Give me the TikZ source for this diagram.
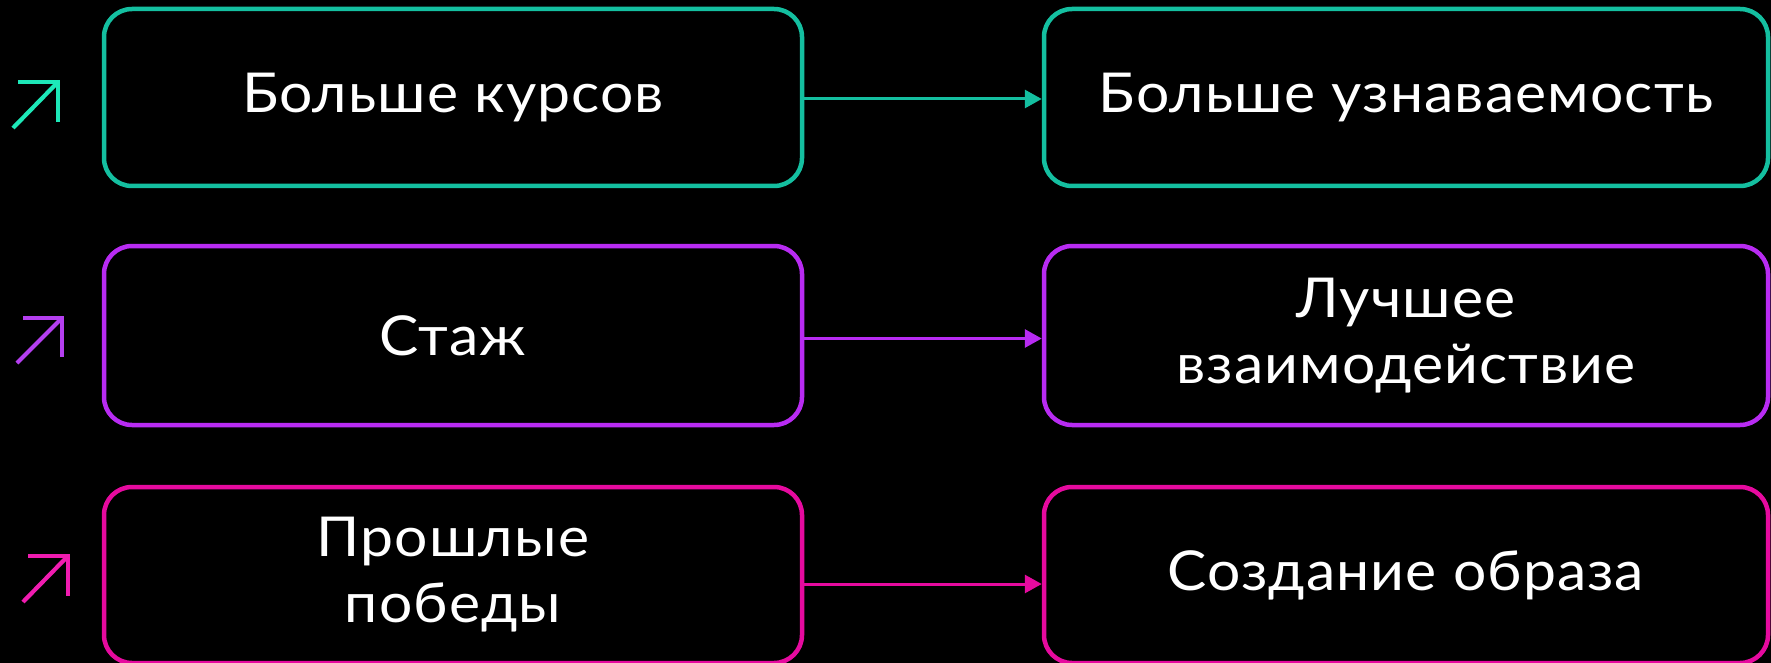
\documentclass[tikz,border=0pt]{standalone}
\usepackage{fontspec}
\setmainfont[FakeStretch=1.07,LetterSpace=2]{Lato}
\usetikzlibrary{arrows.meta}
\definecolor{cteal}{HTML}{14BFA0}
\definecolor{cpurple}{HTML}{B82BF2}
\definecolor{cpink}{HTML}{E60A9F}
\definecolor{ateal}{HTML}{1DE8B8}
\definecolor{apurple}{HTML}{B53FF0}
\definecolor{apink}{HTML}{F01CB0}
\tikzset{
  box/.style={rectangle, rounded corners=28pt, line width=4.5pt, fill=black,
    text=white, align=center, font=\fontsize{55}{66}\selectfont, inner sep=0pt},
  lbox/.style={box, minimum width=698pt},
  rbox/.style={box, minimum width=724pt},
  conn/.style={line width=3pt, -{Triangle[length=17pt,width=18pt]}},
  icon/.style={line width=4.2pt}
}
\begin{document}
\begin{tikzpicture}[x=1pt,y=-1pt]
\fill[black] (0,0) rectangle (1771,663);
\useasboundingbox (0,0) rectangle (1771,663);

% row 1
\node[lbox, draw=cteal, minimum height=177pt] (l1) at (453,97.5) {Больше курсов};
\node[rbox, draw=cteal, minimum height=177pt] (r1) at (1406,97.5) {Больше узнаваемость};
\draw[conn, cteal] ([yshift=-1.5pt]l1.east) -- ([yshift=-1.5pt]r1.west);

% row 2
\node[lbox, draw=cpurple, minimum height=179pt] (l2) at (453,335.5) {Стаж};
\node[rbox, draw=cpurple, minimum height=179pt] (r2) at (1406,335.5) {Лучшее\\взаимодействие};
\draw[conn, cpurple] ([yshift=-3pt]l2.east) -- ([yshift=-3pt]r2.west);

% row 3
\node[lbox, draw=cpink, minimum height=176pt] (l3) at (453,575) {Прошлые\\победы};
\node[rbox, draw=cpink, minimum height=176pt] (r3) at (1406,575) {Создание образа};
\draw[conn, cpink] ([yshift=-9pt]l3.east) -- ([yshift=-9pt]r3.west);

% left icons
\draw[icon, ateal] (13,128) -- (56,84);
\draw[icon, ateal] (18,82) -- (58,82) -- (58,122);
\draw[icon, apurple] (17,363) -- (60,320);
\draw[icon, apurple] (23,318) -- (62,318) -- (62,357);
\draw[icon, apink] (23,602) -- (66,558);
\draw[icon, apink] (28,556) -- (68,556) -- (68,596);
\end{tikzpicture}
\end{document}
